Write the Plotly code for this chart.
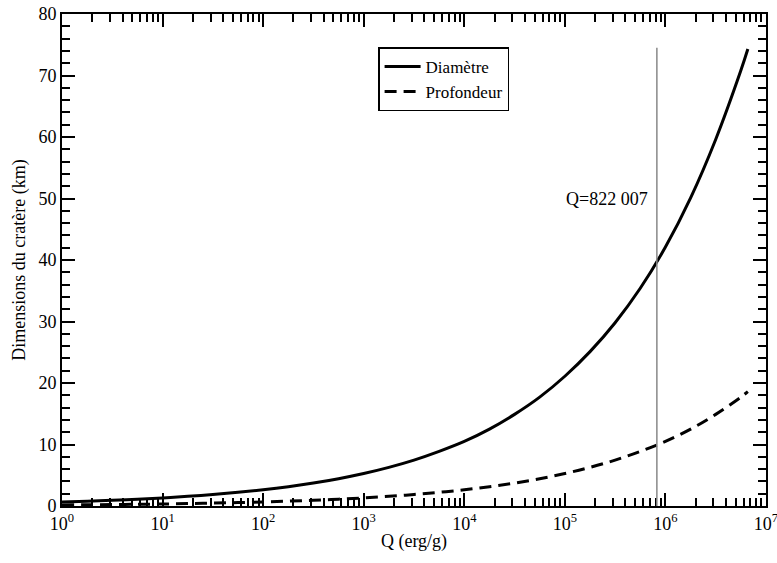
import numpy as np
import plotly.graph_objects as go

# Values (every quarter decade)
Q = [1, 1.78, 3.16, 5.62, 10, 17.8, 31.6, 56.2, 100, 178, 316, 562, 1000, 1778, 3162, 5623,
     1e4, 1.78e4, 3.16e4, 5.62e4, 1e5, 1.78e5, 3.16e5, 5.62e5, 1e6, 1.78e6, 3.16e6, 5.62e6, 6.6e6]
diametre = [0.66, 0.78, 0.93, 1.11, 1.32, 1.57, 1.87, 2.22, 2.64, 3.14, 3.73, 4.44, 5.28, 6.28, 7.46, 8.88,
            10.5, 12.5, 14.9, 17.7, 21.1, 25.1, 29.8, 35.4, 42.1, 50.1, 59.6, 70.8, 74.3]
profondeur = [0.17, 0.2, 0.23, 0.28, 0.33, 0.39, 0.47, 0.56, 0.66, 0.79, 0.93, 1.11, 1.32, 1.57, 1.87, 2.22,
              2.64, 3.14, 3.73, 4.44, 5.28, 6.28, 7.46, 8.88, 10.5, 12.5, 14.9, 17.7, 18.6]
Q_mark = 822007
Q_mark_top = 74.5
x_tickvals = [1, 10, 100, 1e3, 1e4, 1e5, 1e6, 1e7]
x_ticktext = ["10<sup>%d</sup>" % i for i in range(8)]
x_minor_vals = [m * 10 ** e for e in range(7) for m in range(2, 10)]
y_major_vals = [0, 10, 20, 30, 40, 50, 60, 70, 80]
y_minor_vals = [v for v in range(0, 81, 2) if v % 10 != 0]

FONT = "Liberation Serif, Times New Roman, serif"

fig = go.Figure()
fig.add_trace(go.Scatter(x=Q, y=diametre, mode="lines", name="Diamètre",
                         line=dict(color="black", width=3, shape="spline")))
fig.add_trace(go.Scatter(x=Q, y=profondeur, mode="lines", name="Profondeur",
                         line=dict(color="black", width=3, dash="12px,7px", shape="spline")))
# helper trace so the minor-tick axes are drawn
fig.add_trace(go.Scatter(x=[None], y=[None], xaxis="x2", yaxis="y2", mode="lines",
                         showlegend=False, hoverinfo="skip"))

fig.add_shape(type="line", x0=Q_mark, x1=Q_mark, y0=0, y1=Q_mark_top,
              xref="x", yref="y", line=dict(color="#888888", width=1.5))
fig.add_annotation(x=np.log10(Q_mark) - 0.07, y=50, text="Q=822 007", showarrow=False,
                   xanchor="right", yanchor="middle", font=dict(family=FONT, size=18, color="black"))

fig.update_layout(
    template="none",
    width=777, height=563,
    margin=dict(l=62, r=11, t=14, b=57, autoexpand=False),
    plot_bgcolor="white", paper_bgcolor="white",
    font=dict(family=FONT, color="black"),
    showlegend=True,
    legend=dict(x=0.449, y=0.932, xanchor="left", yanchor="top",
                bordercolor="black", borderwidth=1.5, bgcolor="white",
                font=dict(family=FONT, size=17, color="black"),
                itemwidth=36, tracegroupgap=0),
    xaxis=dict(type="log", range=[0, 7], tickmode="array", tickvals=x_tickvals, ticktext=x_ticktext,
               ticks="inside", ticklen=13, tickwidth=2, tickcolor="black",
               showline=True, linecolor="black", linewidth=2, mirror="ticks",
               showgrid=False, zeroline=False, automargin=False, ticklabeloverflow="allow",
               tickfont=dict(family=FONT, size=18, color="black"),
               title=dict(text="Q (erg/g)", font=dict(family=FONT, size=18, color="black"), standoff=2)),
    yaxis=dict(range=[0, 80], tickmode="array", tickvals=y_major_vals,
               ticks="inside", ticklen=13, tickwidth=2, tickcolor="black",
               showline=True, linecolor="black", linewidth=2, mirror="ticks",
               showgrid=False, zeroline=False, automargin=False,
               tickfont=dict(family=FONT, size=18, color="black"),
               title=dict(text="Dimensions du cratère (km)", font=dict(family=FONT, size=18, color="black"), standoff=8)),
    xaxis2=dict(type="log", range=[0, 7], overlaying="x", anchor="y2", side="bottom",
                tickmode="array", tickvals=x_minor_vals, ticks="inside", ticklen=8, tickwidth=1.5,
                tickcolor="black", mirror="ticks", showline=False, showticklabels=False,
                showgrid=False, zeroline=False, automargin=False),
    yaxis2=dict(range=[0, 80], overlaying="y", anchor="x2", side="left",
                tickmode="array", tickvals=y_minor_vals, ticks="inside", ticklen=8, tickwidth=1.5,
                tickcolor="black", mirror="ticks", showline=False, showticklabels=False,
                showgrid=False, zeroline=False, automargin=False),
)

fig.write_html("out.html", config={"displayModeBar": False},
               post_script="document.body.style.margin='0';")
